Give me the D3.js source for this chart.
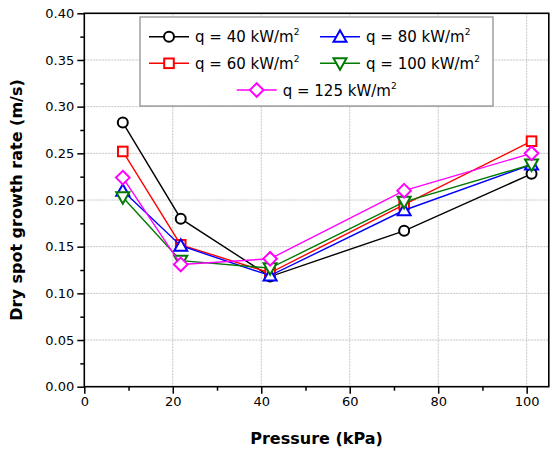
<!DOCTYPE html>
<html><head><meta charset="utf-8">
<script src="https://cdn.jsdelivr.net/npm/d3@7"></script>
<style>body{margin:0;background:#fff}svg{display:block}</style>
</head><body><svg id="c" width="550" height="451"></svg>
<script>
const pressure = [8.7, 21.8, 42.0, 72.3, 101.1];
const q40  = [0.283, 0.180, 0.118, 0.167, 0.228];
const q60  = [0.252, 0.152, 0.122, 0.195, 0.263];
const q80  = [0.210, 0.151, 0.119, 0.189, 0.238];
const q100 = [0.203, 0.135, 0.127, 0.198, 0.238];
const q125 = [0.224, 0.131, 0.137, 0.210, 0.250];
const seriesNames = ["40", "60", "80", "100", "125"];
const xTicks = [0, 20, 40, 60, 80, 100];
const yTicks = [0, 0.05, 0.10, 0.15, 0.20, 0.25, 0.30, 0.35, 0.40];

const series = [
  {name: seriesNames[0], vals: q40,  color: "#000000", shape: "circle"},
  {name: seriesNames[1], vals: q60,  color: "#ff0000", shape: "square"},
  {name: seriesNames[2], vals: q80,  color: "#0000ff", shape: "up"},
  {name: seriesNames[3], vals: q100, color: "#007a00", shape: "down"},
  {name: seriesNames[4], vals: q125, color: "#ff00ff", shape: "diamond"}
];

const svg = d3.select("#c");
const L = 84.3, R = 548.8, T = 13.3, B = 386.7;
const x = d3.scaleLinear().domain([0, 105]).range([L, R]);
const y = d3.scaleLinear().domain([0, 0.40]).range([B, T]);
const font = "'DejaVu Sans', sans-serif";

// grid
const g = svg.append("g");
g.selectAll(".gx").data(xTicks.filter(d => d > 0)).enter().append("line")
  .attr("x1", d => x(d)).attr("x2", d => x(d)).attr("y1", T).attr("y2", B)
  .attr("stroke", "#c4c4c4").attr("stroke-width", 1).attr("stroke-dasharray", "2,1");
g.selectAll(".gy").data(yTicks.filter(d => d > 0 && d < 0.4)).enter().append("line")
  .attr("y1", d => y(d)).attr("y2", d => y(d)).attr("x1", L).attr("x2", R)
  .attr("stroke", "#c4c4c4").attr("stroke-width", 1).attr("stroke-dasharray", "2,1");

// axes
const xAxis = d3.axisBottom(x).tickValues(xTicks).tickSize(7).tickPadding(3).tickFormat(d3.format("d"));
const xMinor = d3.axisBottom(x).tickValues(d3.range(10, 105, 20)).tickSize(4).tickFormat("");
const yAxis = d3.axisLeft(y).tickValues(yTicks).tickSize(7).tickPadding(3).tickFormat(d3.format(".2f"));
const yMinor = d3.axisLeft(y).tickValues(d3.range(0.025, 0.4, 0.05)).tickSize(4).tickFormat("");

function styleAxis(sel){
  sel.select(".domain").remove();
  sel.selectAll("line").attr("stroke", "#000").attr("stroke-width", 1.5);
  sel.selectAll("text").attr("font-family", font).attr("font-size", 13).attr("fill", "#000");
}
svg.append("g").attr("transform", `translate(0,${B})`).call(xAxis).call(styleAxis);
svg.append("g").attr("transform", `translate(0,${B})`).call(xMinor).call(styleAxis);
svg.append("g").attr("transform", `translate(${L},0)`).call(yAxis).call(styleAxis);
svg.append("g").attr("transform", `translate(${L},0)`).call(yMinor).call(styleAxis);

// frame
svg.append("rect").attr("x", L).attr("y", T).attr("width", R - L).attr("height", B - T)
  .attr("fill", "none").attr("stroke", "#000").attr("stroke-width", 1.6);

// titles
svg.append("text").attr("x", (L + R) / 2).attr("y", 444).attr("text-anchor", "middle")
  .attr("font-family", font).attr("font-weight", "bold").attr("font-size", 16).text("Pressure (kPa)");
svg.append("text").attr("transform", `translate(22,${(T + B) / 2}) rotate(-90)`).attr("text-anchor", "middle")
  .attr("font-family", font).attr("font-weight", "bold").attr("font-size", 16).text("Dry spot growth rate (m/s)");

function marker(sel, shape, color, cx, cy){
  const s = 5.5;
  let el;
  if (shape === "circle") el = sel.append("circle").attr("cx", cx).attr("cy", cy).attr("r", 5);
  else if (shape === "square") el = sel.append("rect").attr("x", cx - 4.8).attr("y", cy - 4.8).attr("width", 9.6).attr("height", 9.6);
  else if (shape === "up") el = sel.append("path").attr("d", `M${cx},${cy - 6.5}L${cx + 6.5},${cy + 5}L${cx - 6.5},${cy + 5}Z`);
  else if (shape === "down") el = sel.append("path").attr("d", `M${cx},${cy + 6.5}L${cx + 6.5},${cy - 5}L${cx - 6.5},${cy - 5}Z`);
  else el = sel.append("path").attr("d", `M${cx},${cy - 6.8}L${cx + 6.8},${cy}L${cx},${cy + 6.8}L${cx - 6.8},${cy}Z`);
  el.attr("fill", "#fff").attr("stroke", color).attr("stroke-width", 2);
}

// series
const line = d3.line().x((d, i) => x(pressure[i])).y(d => y(d));
series.forEach(s => {
  const gs = svg.append("g");
  gs.append("path").attr("d", line(s.vals)).attr("fill", "none").attr("stroke", s.color).attr("stroke-width", 1.4);
  s.vals.forEach((v, i) => marker(gs, s.shape, s.color, x(pressure[i]), y(v)));
});

// legend
const lg = svg.append("g");
lg.append("rect").attr("x", 140).attr("y", 17).attr("width", 353).attr("height", 89)
  .attr("fill", "#fff").attr("stroke", "#888").attr("stroke-width", 1.2);
const legPos = [
  {i: 0, lx: 149, ly: 36.7},
  {i: 2, lx: 320, ly: 36.7},
  {i: 1, lx: 149, ly: 63.3},
  {i: 3, lx: 320, ly: 63.3},
  {i: 4, lx: 236.7, ly: 90}
];
legPos.forEach(p => {
  const s = series[p.i];
  lg.append("line").attr("x1", p.lx).attr("x2", p.lx + 40).attr("y1", p.ly).attr("y2", p.ly)
    .attr("stroke", s.color).attr("stroke-width", 1.4);
  marker(lg, s.shape, s.color, p.lx + 20, p.ly);
  const t = lg.append("text").attr("x", p.lx + 46).attr("y", p.ly + 5.5)
    .attr("font-family", font).attr("font-size", 15).attr("fill", "#000");
  t.append("tspan").text(`q = ${s.name} kW/m`);
  t.append("tspan").attr("dy", -7).attr("font-size", 9).text("2");
});
</script></body></html>
